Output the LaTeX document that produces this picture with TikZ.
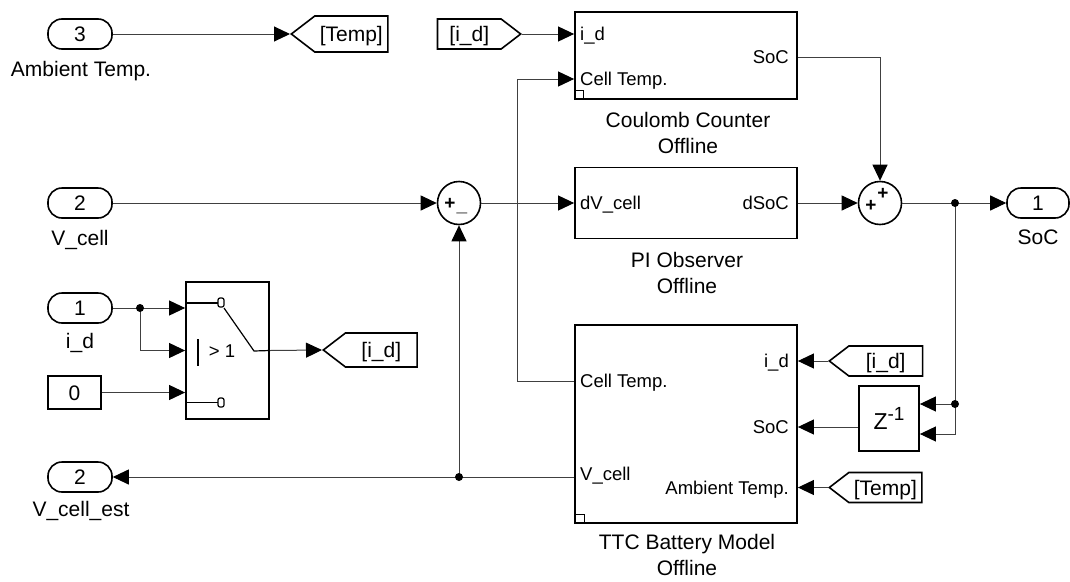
\documentclass[tikz,border=0pt]{standalone}
\usepackage{fontspec}
\setmainfont{Liberation Sans}
\usetikzlibrary{arrows.meta,shapes.symbols,calc}

\begin{document}
\begin{tikzpicture}[x=1pt,y=-1pt,
  every node/.style={font=\fontsize{21}{26}\selectfont},
  blk/.style={draw,line width=1.8pt,inner sep=0pt},
  pill/.style={draw,line width=1.6pt,rounded corners=14pt,minimum width=64pt,minimum height=30pt,inner sep=0pt,text height=15pt,text depth=0pt},
  tagl/.style={draw,line width=1.6pt,shape=signal,signal from=nowhere,signal to=west,signal pointer angle=75,minimum height=30pt,inner ysep=0pt,text height=15pt,text depth=0pt},
  tagr/.style={tagl,signal to=east},
  sumblk/.style={draw,circle,line width=1.6pt,minimum size=43pt,inner sep=0pt},
  plab/.style={font=\fontsize{18.5}{21}\selectfont,inner sep=0pt,text height=13pt,text depth=0pt},
  sgn/.style={font=\fontsize{19}{19}\selectfont\bfseries,inner sep=0pt,text height=12pt,text depth=0pt},
  wire/.style={line width=1pt,black!75},
  sig/.style={wire,-{Triangle[length=16pt,width=15pt,color=black]}},
  jdot/.style={fill=black}]
\useasboundingbox (0,0) rectangle (1070,581);

% inports, outports
\node[pill] (inTemp) at (80,34) {3};
\node (lTemp) at (81,71) {Ambient Temp.};
\node[pill] (inV) at (80,203) {2};
\node (lV) at (80,240) {V\_cell};
\node[pill] (inId) at (80,308) {1};
\node (lId) at (80,343) {i\_d};
\node[blk,minimum width=53pt,minimum height=33pt,text height=15pt,text depth=0pt] (c0) at (74.5,392.5) {0};
\node[pill] (outV) at (80,477) {2};
\node (lVest) at (81,511) {V\_cell\_est};
\node[pill,minimum width=62pt] (outSoc) at (1038,203) {1};
\node (lSoc) at (1038,237) {SoC};

% goto / from tags
\node[tagl,anchor=west,minimum height=36pt,inner xsep=5pt] (gTemp) at (290,34) {[Temp]};
\node[tagr,anchor=east,inner xsep=12pt] (fId) at (522,34) {[i\_d]};
\node[tagl,anchor=west,minimum height=34pt,inner xsep=16pt] (gId) at (322,350) {[i\_d]};
\node[tagl,anchor=west,inner xsep=17pt] (fId2) at (828,361) {[i\_d]};
\node[tagl,anchor=west,inner xsep=5pt] (fTemp) at (828,487.5) {[Temp]};

% Coulomb counter
\node[blk,minimum width=222pt,minimum height=87pt] (cc) at (686,55.5) {};
\node[plab,anchor=west] (ccId) at (580,34) {i\_d};
\node[plab,anchor=west] (ccT) at (580,79) {Cell Temp.};
\node[plab,anchor=east] (ccS) at (789,57) {SoC};
\draw[line width=1pt] (cc.south west) rectangle ++(9,-9);
\node[align=center] (ccN) at (688,133) {Coulomb Counter\\Offline};

% PI observer
\node[blk,minimum width=222pt,minimum height=71pt] (pi) at (686,203) {};
\node[plab,anchor=west] (piIn) at (580,203) {dV\_cell};
\node[plab,anchor=east] (piOut) at (789,203) {dSoC};
\node[align=center] (piN) at (687,273) {PI Observer\\Offline};

% battery model
\node[blk,minimum width=222pt,minimum height=198pt] (ttc) at (686,424) {};
\node[plab,anchor=west] (ttcT) at (580,381) {Cell Temp.};
\node[plab,anchor=west] (ttcV) at (580,474) {V\_cell};
\node[plab,anchor=east] (ttcI) at (789,361) {i\_d};
\node[plab,anchor=east] (ttcS) at (789,427) {SoC};
\node[plab,anchor=east] (ttcA) at (789,487.5) {Ambient Temp.};
\draw[line width=1pt] (ttc.south west) rectangle ++(10,-9);
\node[align=center] (ttcN) at (687,555) {TTC Battery Model\\Offline};

% sums
\node[sumblk] (s1) at (459,203) {};
\node[sgn] (s1a) at (450,203) {+};
\node[sgn] (s1b) at (462,205) {\_};
\node[sumblk] (s2) at (880,203) {};
\node[sgn] (s2a) at (871,205) {+};
\node[sgn] (s2b) at (883,193) {+};

% switch
\node[blk,minimum width=83pt,minimum height=137pt] (sw) at (227.5,350.5) {};
\draw[line width=1.2pt] (sw.west |- inId) ++(0,-5) -- ++(33,0);
\draw[line width=1.2pt,rounded corners=2pt] (218,298) rectangle (224,307);
\draw[line width=1.2pt] (sw.west |- c0) ++(0,10) -- ++(33,0);
\draw[line width=1.2pt,rounded corners=2pt] (218,398) rectangle (224,407);
\draw[line width=1.2pt] (198,339) -- (198,366);
\node[plab] (swTh) at (222,351) {> 1};
\draw[line width=1.2pt] (224,308) -- (254,351) -- (sw.east);

% delay
\node[blk,minimum width=60pt,minimum height=65pt] (dly) at (889,418.5)
  {{\fontsize{23}{24}\selectfont Z}\raisebox{9pt}{\fontsize{19}{20}\selectfont -1}};

% wires
\coordinate (kT) at (517,79);
\coordinate (jSoc) at (955,203);
\coordinate (jDly) at (955,404);
\coordinate (jLow) at (955,434);
\coordinate (jV) at (459,477);
\coordinate (jId) at (140,308);
\draw[sig] (inTemp.east) -- (gTemp.west);
\draw[sig] (fId.east) -- (fId.east -| cc.west);
\draw[sig] (ttc.west |- ttcT) -| (kT) -- (cc.west |- ccT);
\draw[sig] (cc.east |- ccS) -| (s2.north);
\draw[sig] (inV.east) -- (s1.west);
\draw[sig] (s1.east) -- (pi.west);
\draw[sig] (pi.east) -- (s2.west);
\draw[sig] (s2.east) -- (outSoc.west);
\draw[sig] (jSoc) -- (jLow) -- (jLow -| dly.east);
\draw[sig] (jDly) -- (jDly -| dly.east);
\draw[sig] (dly.west |- ttcS) -- (ttc.east |- ttcS);
\draw[sig] (fId2.west) -- (fId2.west -| ttc.east);
\draw[sig] (fTemp.west) -- (fTemp.west -| ttc.east);
\draw[sig] (ttc.west |- outV) -- (outV.east);
\draw[sig] (jV) -- (s1.south);
\draw[sig] (inId.east) -- (inId.east -| sw.west);
\draw[sig] (jId) |- (sw.west);
\draw[sig] (c0.east) -- (c0.east -| sw.west);
\draw[sig] (sw.east) -- (gId.west);
\foreach \j in {jSoc,jDly,jV,jId} \fill[jdot] (\j) circle (4);
\end{tikzpicture}
\end{document}
